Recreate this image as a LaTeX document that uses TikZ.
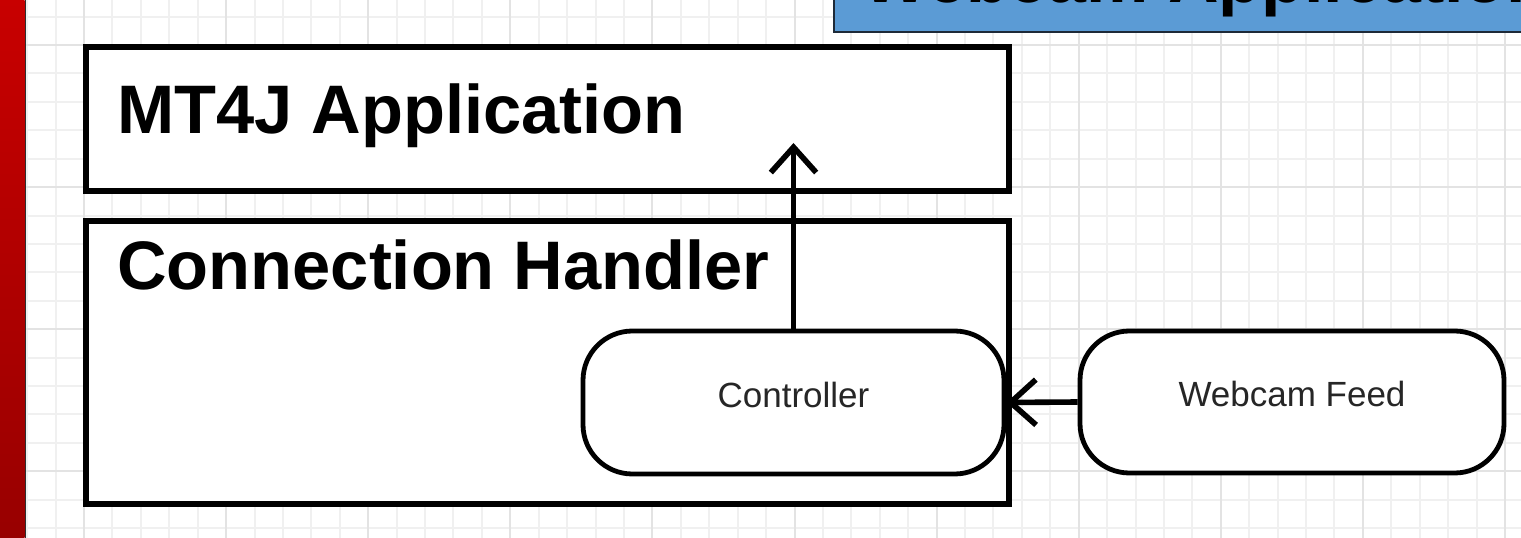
\documentclass[tikz,border=0pt]{standalone}
\usepackage{fontspec}
\setmainfont{Liberation Sans}
\usetikzlibrary{arrows.meta}

\definecolor{gridminor}{HTML}{F0F0F0}
\definecolor{gridmajor}{HTML}{E3E3E3}
\definecolor{bartop}{HTML}{C80000}
\definecolor{barbottom}{HTML}{980000}
\definecolor{baredge}{HTML}{2E2E2E}
\definecolor{titleblue}{HTML}{5B9BD5}
\definecolor{titleedge}{HTML}{1E2A38}
\definecolor{labelgrey}{HTML}{262626}

\begin{document}
\begin{tikzpicture}[x=0.75pt,y=-0.75pt,
  gridline/.style={draw=gridminor, line width=1.5pt},
  gridbold/.style={draw=gridmajor, line width=1.5pt},
  boxsize/.style 2 args={minimum width=#1*0.75pt, minimum height=#2*0.75pt},
  layerbox/.style={rectangle, draw=black, fill=white, line width=4.5pt, inner sep=0pt},
  pillbox/.style={rectangle, draw=black, fill=white, line width=3.6pt, rounded corners=37pt,
    inner sep=0pt, font=\fontsize{26.25}{30}\selectfont, text=labelgrey,
    text height=0.84em, text depth=0.16em},
  headline/.style={anchor=base west, inner sep=0pt, font=\fontsize{51.5}{60}\selectfont\bfseries},
  conn/.style={draw=black, line width=4.2pt, -{Straight Barb[length=19pt, width=34pt]}}
]
\useasboundingbox (0,0) rectangle (1521,538);
\clip (0,0) rectangle (1521,538);

% paper and grid
\fill[white] (0,0) rectangle (1521,538);
\begin{scope}
  \clip (26,0) rectangle (1521,538);
  \foreach \k in {-2,...,50} \draw[gridline] ({84+28.42*\k},0) -- ({84+28.42*\k},538);
  \foreach \k in {-1,...,17} \draw[gridline] (26,{45+28.42*\k}) -- (1521,{45+28.42*\k});
  \foreach \k in {0,...,10} \draw[gridbold] ({84+142.1*\k},0) -- ({84+142.1*\k},538);
  \foreach \k in {-1,...,3} \draw[gridbold] (26,{45+142.1*\k}) -- (1521,{45+142.1*\k});
\end{scope}

% red side bar
\shade[top color=bartop, bottom color=barbottom] (0,0) rectangle (24.6,538);
\draw[baredge, line width=1.1pt] (25.3,0) -- (25.3,538);

% title banner, running off the top right
\node[rectangle, draw=titleedge, fill=titleblue, line width=1.5pt, anchor=south west,
      boxsize={720}{70}] (titlebox) at (833,33) {};
\node[anchor=base west, inner sep=0pt, font=\fontsize{52.5}{63}\selectfont\bfseries]
      (titletext) at (862,3) {Webcam Application};

% layers
\node[layerbox, boxsize={923}{144}] (app) at (547.5,119) {};
\node[layerbox, boxsize={923}{283}] (handler) at (547.5,362.5) {};
\node[headline] (apptext) at (117,134) {MT4J Application};
\node[headline] (handlertext) at (117,290) {Connection Handler};

% components
\node[pillbox, boxsize={421}{143}] (ctrl) at (793.5,402.5) {Controller};
\node[pillbox, boxsize={424}{142}] (feed) at (1292,402) {Webcam Feed};

% data flow
\coordinate (upTip) at (793.5,143);
\draw[conn] (ctrl.north) -- (upTip);
\draw[conn] (feed.west) -- (ctrl.east);
\end{tikzpicture}
\end{document}
